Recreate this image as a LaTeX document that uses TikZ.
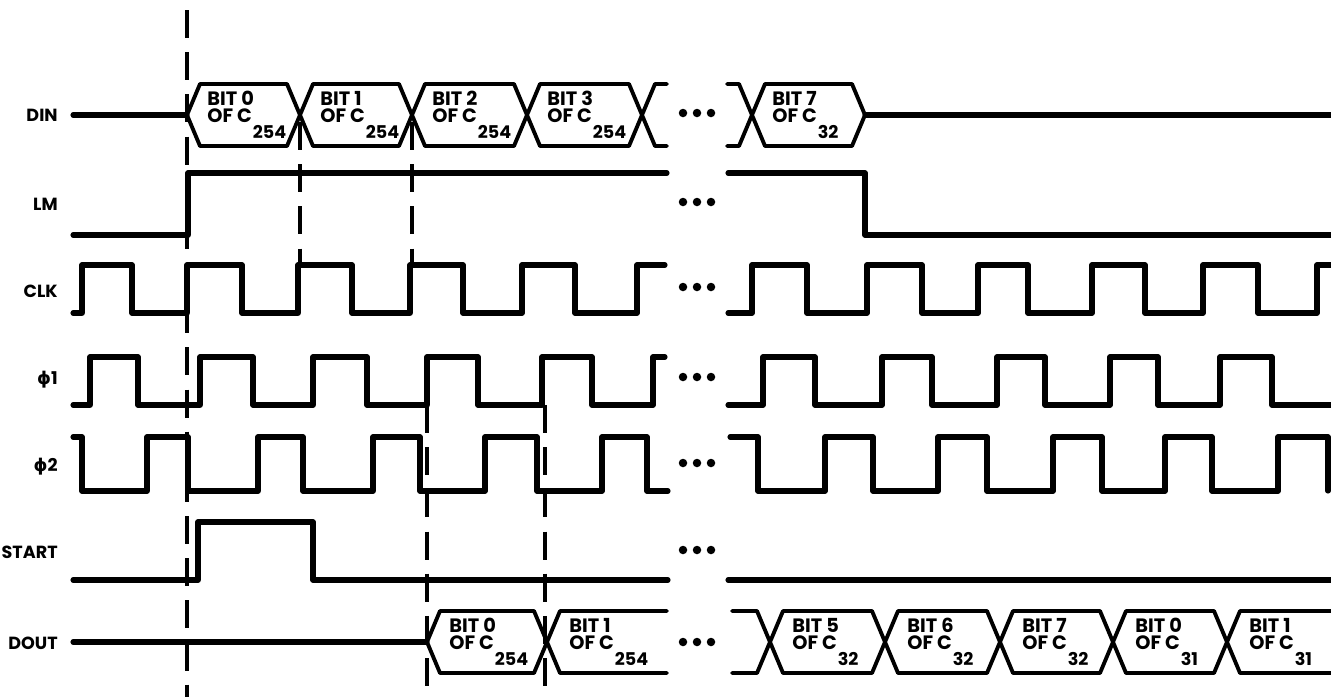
\documentclass[tikz,border=0pt]{standalone}
\usepackage{fontspec}
\setsansfont{Poppins}
\newfontfamily\phifont{DejaVu Sans}

% lowered character number after "OF C"
\newcommand\csub[1]{\kern0.5pt\raisebox{-9pt}[0pt][0pt]{\fontsize{10}{10}\selectfont#1}}

\begin{document}
\begin{tikzpicture}[x=0.02cm, y=-0.02cm,
        wave/.style={line width=2.9pt, line join=round, line cap=round},
        bus/.style={line width=2.2pt, line join=round, line cap=round},
        marker/.style={line width=1.9pt, dash pattern=on 16pt off 8pt},
        sig/.style={font=\sffamily\bfseries\fontsize{10}{10}\selectfont, anchor=east, inner sep=0pt},
        bitlbl/.style={font=\sffamily\bfseries\fontsize{11}{9.6}\selectfont, align=left,
                       anchor=west, inner sep=0pt},
    ]
    \useasboundingbox (0,0) rectangle (1331,697);

    % signal names
    \node[sig] (din)   at (58,115) {DIN};
    \node[sig] (lm)    at (58,204) {LM};
    \node[sig] (clk)   at (58,291) {CLK};
    \node[sig] (phi1)  at (58,380) {{\phifont\bfseries ϕ}1};
    \node[sig] (phi2)  at (58,467) {{\phifont\bfseries ϕ}2};
    \node[sig] (start) at (58,552) {START};
    \node[sig] (dout)  at (58,643) {DOUT};

    % DIN
    \draw[wave] (73,115) -- (187,115);
    \foreach \a/\b/\n/\t/\c in {187/300/0/0/254, 300/412/1/1/254, 412/527/2/2/254,
                                527/642/3/3/254, 752/865/7/7/32} {
        \draw[bus] (\a,115) -- (\a+13,84) -- (\b-13,84) -- (\b,115)
                   -- (\b-13,146) -- (\a+13,146) -- cycle;
        \node[bitlbl] (din\n) at (\a+20,107) {BIT \t\\OF C\csub{\c}};
    }
    \draw[bus] (667,84) -- (655,84) -- (642,115) -- (655,146) -- (667,146);
    \draw[bus] (727,84) -- (739,84) -- (752,115) -- (739,146) -- (727,146);
    \draw[wave] (865,115) -- (1331,115);

    % LM
    \draw[wave] (73,235) -- (188,235) -- (188,173) -- (667,173);
    \draw[wave] (728,173) -- (865,173) -- (865,235) -- (1331,235);

    % CLK
    \draw[wave] (73,313) foreach \r/\f in {82/132, 187/242, 298/352, 410/463, 522/575}
        { -- (\r,313) -- (\r,265) -- (\f,265) -- (\f,313) }
        -- (637,313) -- (637,265) -- (665,265);
    \draw[wave] (728,313) foreach \r/\f in {752/807, 867/922, 978/1028, 1092/1145, 1203/1258}
        { -- (\r,313) -- (\r,265) -- (\f,265) -- (\f,313) }
        -- (1317,313) -- (1317,265) -- (1331,265);

    % phi 1
    \draw[wave] (73,405) foreach \r/\f in {90/138, 200/253, 313/367, 427/478, 542/592}
        { -- (\r,405) -- (\r,357) -- (\f,357) -- (\f,405) }
        -- (653,405) -- (653,357) -- (665,357);
    \draw[wave] (728,405) foreach \r/\f in {763/815, 882/932, 997/1045, 1110/1158, 1220/1272}
        { -- (\r,405) -- (\r,357) -- (\f,357) -- (\f,405) }
        -- (1331,405);

    % phi 2
    \draw[wave] (73,437) -- (82,437) -- (82,491)
        foreach \r/\f in {147/188, 258/303, 373/420, 485/537, 602/647}
        { -- (\r,491) -- (\r,437) -- (\f,437) -- (\f,491) }
        -- (668,491);
    \draw[wave] (730,437) -- (758,437) -- (758,491)
        foreach \r/\f in {825/873, 938/987, 1053/1102, 1165/1212, 1278/1328}
        { -- (\r,491) -- (\r,437) -- (\f,437) -- (\f,491) };

    % START
    \draw[wave] (73,580) -- (198,580) -- (198,522) -- (313,522) -- (313,580) -- (668,580);
    \draw[wave] (728,580) -- (1331,580);

    % DOUT
    \draw[wave] (73,642) -- (427,642);
    \foreach \a/\b/\n/\t/\c in {427/547/0/0/254, 770/885/5/5/32, 885/1000/6/6/32,
                                1000/1113/7/7/32, 1113/1227/8/0/31} {
        \draw[bus] (\a,642) -- (\a+13,611) -- (\b-13,611) -- (\b,642)
                   -- (\b-13,673) -- (\a+13,673) -- cycle;
        \node[bitlbl] (dout\n) at (\a+22,634) {BIT \t\\OF C\csub{\c}};
    }
    \draw[bus] (667,611) -- (560,611) -- (547,642) -- (560,673) -- (667,673);
    \node[bitlbl] (dout1) at (569,634) {BIT 1\\OF C\csub{254}};
    \draw[bus] (732,611) -- (757,611) -- (770,642) -- (757,673) -- (732,673);
    \draw[bus] (1331,611) -- (1240,611) -- (1227,642) -- (1240,673) -- (1331,673);
    \node[bitlbl] (dout9) at (1249,634) {BIT 1\\OF C\csub{31}};

    % gaps in the time axis
    \foreach \y in {113, 202, 287, 377, 463, 550, 642}
        \foreach \x in {683, 697, 711}
            \fill (\x,\y) circle[radius=0.085cm];

    % timing marks
    \draw[marker] (187,10) -- (187,697);
    \draw[marker] (300,122) -- (300,263);
    \draw[marker] (412,122) -- (412,263);
    \draw[marker] (427,405) -- (427,697);
    \draw[marker] (545,405) -- (545,697);
\end{tikzpicture}
\end{document}
